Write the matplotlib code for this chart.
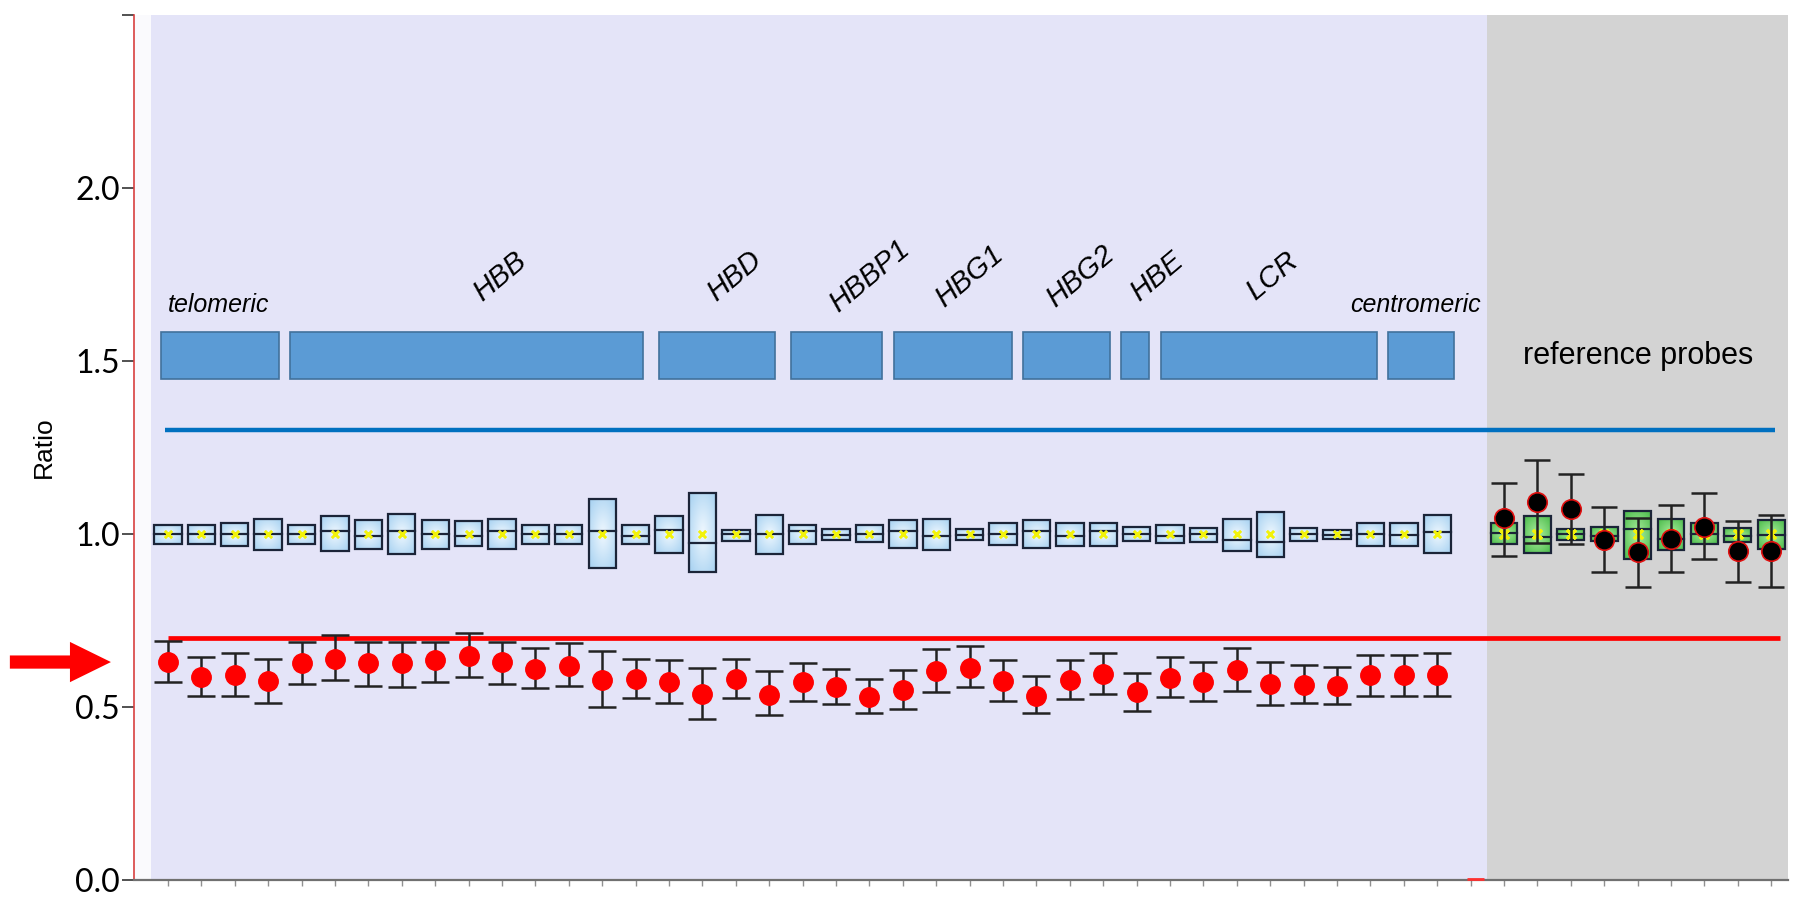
"""
MLPA style ratio plot for the beta-globin cluster probes vs reference probes.
"""
import matplotlib
matplotlib.use("Agg")
import matplotlib.pyplot as plt
from matplotlib.patches import Rectangle
from matplotlib.colors import LinearSegmentedColormap
import numpy as np

# --- data ---
# test probes (blue boxes + red sample dots)
red_mean = [0.630, 0.588, 0.593, 0.574, 0.627, 0.639, 0.627, 0.627, 0.635, 0.648,
            0.630, 0.610, 0.619, 0.579, 0.581, 0.572, 0.538, 0.581, 0.535, 0.572,
            0.557, 0.530, 0.550, 0.603, 0.614, 0.576, 0.533, 0.579, 0.595, 0.543,
            0.585, 0.573, 0.607, 0.568, 0.564, 0.561, 0.592, 0.592, 0.592]
red_hi = [0.692, 0.646, 0.656, 0.638, 0.687, 0.709, 0.689, 0.689, 0.689, 0.713,
          0.689, 0.670, 0.685, 0.662, 0.638, 0.635, 0.614, 0.638, 0.603, 0.627,
          0.610, 0.581, 0.606, 0.667, 0.675, 0.635, 0.590, 0.635, 0.656, 0.598,
          0.646, 0.631, 0.670, 0.629, 0.621, 0.615, 0.650, 0.650, 0.656]
red_lo = [0.571, 0.533, 0.533, 0.513, 0.566, 0.579, 0.562, 0.557, 0.571, 0.586,
          0.566, 0.554, 0.562, 0.501, 0.526, 0.513, 0.465, 0.526, 0.476, 0.518,
          0.509, 0.484, 0.494, 0.542, 0.557, 0.518, 0.484, 0.523, 0.537, 0.489,
          0.528, 0.517, 0.546, 0.506, 0.511, 0.509, 0.533, 0.533, 0.533]
box_q3 = [1.027, 1.027, 1.032, 1.043, 1.027, 1.053, 1.040, 1.058, 1.040, 1.037,
          1.043, 1.027, 1.027, 1.101, 1.027, 1.053, 1.119, 1.013, 1.055, 1.027,
          1.014, 1.027, 1.040, 1.043, 1.014, 1.032, 1.040, 1.032, 1.032, 1.020,
          1.027, 1.018, 1.043, 1.063, 1.018, 1.012, 1.031, 1.031, 1.055]
box_q1 = [0.971, 0.971, 0.966, 0.955, 0.971, 0.950, 0.958, 0.942, 0.958, 0.966,
          0.958, 0.971, 0.971, 0.902, 0.971, 0.945, 0.889, 0.979, 0.942, 0.971,
          0.983, 0.976, 0.961, 0.955, 0.983, 0.969, 0.961, 0.966, 0.966, 0.979,
          0.974, 0.978, 0.952, 0.933, 0.980, 0.985, 0.966, 0.966, 0.946]
box_med = [1.000, 1.000, 1.000, 1.000, 1.000, 1.008, 0.995, 1.008, 1.000, 0.993,
           1.008, 1.000, 1.000, 1.008, 0.995, 1.013, 0.974, 1.000, 1.000, 1.008,
           0.997, 1.000, 1.010, 0.995, 0.997, 1.000, 1.010, 0.995, 1.010, 1.000,
           0.995, 0.999, 0.983, 0.978, 0.999, 0.997, 0.999, 0.997, 1.007]
box_mean = [1.0, 1.0, 1.0, 1.0, 1.0, 1.0, 1.0, 1.0, 1.0, 1.0,
            1.0, 1.0, 1.0, 1.0, 1.0, 1.0, 1.0, 1.0, 1.0, 1.0,
            1.0, 1.0, 1.0, 1.0, 1.0, 1.0, 1.0, 1.0, 1.0, 1.0,
            1.0, 1.0, 1.0, 1.0, 1.0, 1.0, 1.0, 1.0, 1.0]

# reference probes (green boxes + black sample dots)
ref_q3 = [1.033, 1.052, 1.014, 1.019, 1.067, 1.042, 1.033, 1.018, 1.040]
ref_q1 = [0.970, 0.946, 0.983, 0.981, 0.929, 0.954, 0.970, 0.978, 0.958]
ref_med = [1.002, 0.990, 1.000, 0.994, 1.014, 0.985, 1.000, 0.995, 0.997]
ref_mean = [1.0, 1.0, 1.0, 1.0, 1.0, 1.0, 1.0, 1.0, 1.0]
ref_dot = [1.045, 1.093, 1.071, 0.984, 0.949, 0.985, 1.021, 0.951, 0.951]
ref_hi = [1.148, 1.214, 1.173, 1.079, 1.045, 1.084, 1.119, 1.038, 1.055]
ref_lo = [0.937, 0.973, 0.971, 0.889, 0.846, 0.889, 0.927, 0.860, 0.848]

# gene regions along the probe axis (in probe index units)
region_start = [-0.21, 3.65, 14.70, 18.65, 21.74, 25.60, 28.53, 29.73, 36.53]
region_end = [3.32, 14.22, 18.17, 21.38, 25.27, 28.20, 29.37, 36.20, 38.50]
gene_names = ["HBB", "HBD", "HBBP1", "HBG1", "HBG2", "HBE", "LCR"]
gene_label_x = [9.94, 16.97, 21.0, 24.0, 27.3, 29.6, 33.05]

upper_limit = 1.3
lower_limit = 0.7
arrow_level = 0.63

test_x = np.arange(len(red_mean))
ref_x = np.arange(len(red_mean) + 1, len(red_mean) + 1 + len(ref_dot))

blue_cm = LinearSegmentedColormap.from_list("bl", ["#ECF6FE", "#A6D1F1"])
green_cm = LinearSegmentedColormap.from_list("gr", ["#A8EC9C", "#4CBC4C"])

gx, gy = np.meshgrid(np.linspace(-1, 1, 24), np.linspace(-1, 1, 24))
grad = np.sqrt(gx ** 2 + gy ** 2) / np.sqrt(2)


def draw_box(ax, x, q1, q3, med, cmap, width=0.82):
    x0, x1 = x - width / 2, x + width / 2
    ax.imshow(grad, extent=(x0, x1, q1, q3), cmap=cmap, aspect="auto",
              origin="lower", interpolation="bicubic", zorder=3)
    ax.add_patch(Rectangle((x0, q1), width, q3 - q1, facecolor="none",
                           edgecolor="#1B2438", lw=1.6, zorder=4))
    ax.plot([x0, x1], [med, med], color="#1B2438", lw=1.6, zorder=4)


fig = plt.figure(figsize=(18, 8.98), dpi=100)
fig.patch.set_facecolor("white")
ax = fig.add_axes([0.0744, 0.0200, 0.9189, 0.9633])
ax.set_facecolor("#FAFAFD")

ax.axvspan(-0.5, len(red_mean) + 0.5, color="#E4E4F8", zorder=0, lw=0)
ax.axvspan(len(red_mean) + 0.5, ref_x[-1] + 0.5, color="#D3D3D3", zorder=0, lw=0)

# gene region blocks
for s, e in zip(region_start, region_end):
    ax.add_patch(Rectangle((s, 1.447), e - s, 0.136, facecolor="#5B9BD5",
                           edgecolor="#41719C", lw=1.2, zorder=2))

ax.text(0, 1.642, "telomeric", fontsize=18, style="italic",
        family="Liberation Sans", ha="left", va="baseline")
ax.text(region_end[-1] + 0.8, 1.642, "centromeric", fontsize=18, style="italic",
        family="Liberation Sans", ha="right", va="baseline")
for name, xl in zip(gene_names, gene_label_x):
    ax.text(xl, 1.745, name, fontsize=21, style="italic", family="Liberation Sans",
            rotation=40, ha="center", va="center", rotation_mode="anchor")
ax.text(ref_x.mean(), 1.49, "reference probes", fontsize=22,
        family="Liberation Sans", ha="center", va="baseline")

# threshold lines
ax.hlines(upper_limit, -0.1, 48.1, color="#0070C0", lw=3.2, zorder=2)
ax.hlines(lower_limit, 0, 48.26, color="#FF0000", lw=3.4, zorder=2)

# test probes
for i, x in enumerate(test_x):
    draw_box(ax, x, box_q1[i], box_q3[i], box_med[i], blue_cm)
ax.plot(test_x, box_mean, ls="none", marker=(4, 2, 45), ms=7, mew=1.8,
        color="#F2F20A", zorder=5)
red_err = [np.array(red_mean) - np.array(red_lo), np.array(red_hi) - np.array(red_mean)]
ax.errorbar(test_x, red_mean, yerr=red_err, fmt="o", ms=14, color="#FF0000",
            mec="#FF0000", ecolor="#222222", elinewidth=1.8, capsize=9.8,
            capthick=1.8, zorder=5)

# reference probes
for i, x in enumerate(ref_x):
    draw_box(ax, x, ref_q1[i], ref_q3[i], ref_med[i], green_cm, width=0.8)
ax.plot(ref_x, ref_mean, ls="none", marker=(4, 2, 45), ms=9, mew=2.2,
        color="#F2F20A", zorder=5)
ref_err = [np.array(ref_dot) - np.array(ref_lo), np.array(ref_hi) - np.array(ref_dot)]
ax.errorbar(ref_x, ref_dot, yerr=ref_err, fmt="none", ecolor="#222222",
            elinewidth=1.8, capsize=9.6, capthick=1.8, zorder=5)
ax.plot(ref_x, ref_dot, ls="none", marker="o", ms=14, color="#000000",
        mec="#E01010", mew=1.2, zorder=6)

# small red marker on the axis between the groups
ax.hlines(0.004, len(red_mean) - 0.1, len(red_mean) + 0.4, color="#FF3030",
          lw=2, zorder=6, clip_on=False)

# arrow pointing at the sample level
ax.annotate("", xy=(-0.0139, arrow_level), xytext=(-0.075, arrow_level),
            xycoords=ax.get_yaxis_transform(), annotation_clip=False,
            arrowprops=dict(arrowstyle="simple,head_length=2.95,head_width=2.9,tail_width=0.95",
                            mutation_scale=10, color="#FF0000", shrinkA=0, shrinkB=0, lw=0))

ax.set_xlim(-1.02, 48.5)
ax.set_ylim(0, 2.5)

ax.set_xticks(np.arange(0, ref_x[-1] + 1))
ax.set_xticklabels([])
ax.tick_params(axis="x", length=4, width=1, color="#909090")
ax.set_yticks([0, 0.5, 1.0, 1.5, 2.0, 2.5])
ax.set_yticklabels(["0.0", "0.5", "1.0", "1.5", "2.0", ""])
ax.tick_params(axis="y", length=9, width=1.2, color="#333333", pad=1,
               labelsize=23)
for lab in ax.get_yticklabels():
    lab.set_family(["Lato", "DejaVu Sans"])

ax.set_ylabel("Ratio", fontsize=19, family="Liberation Sans", labelpad=14)

ax.spines["top"].set_visible(False)
ax.spines["right"].set_visible(False)
ax.spines["left"].set_color("#D84040")
ax.spines["left"].set_linewidth(1.2)
ax.spines["bottom"].set_color("#707070")
ax.spines["bottom"].set_linewidth(1.6)

fig.savefig("out.png", dpi=100)
